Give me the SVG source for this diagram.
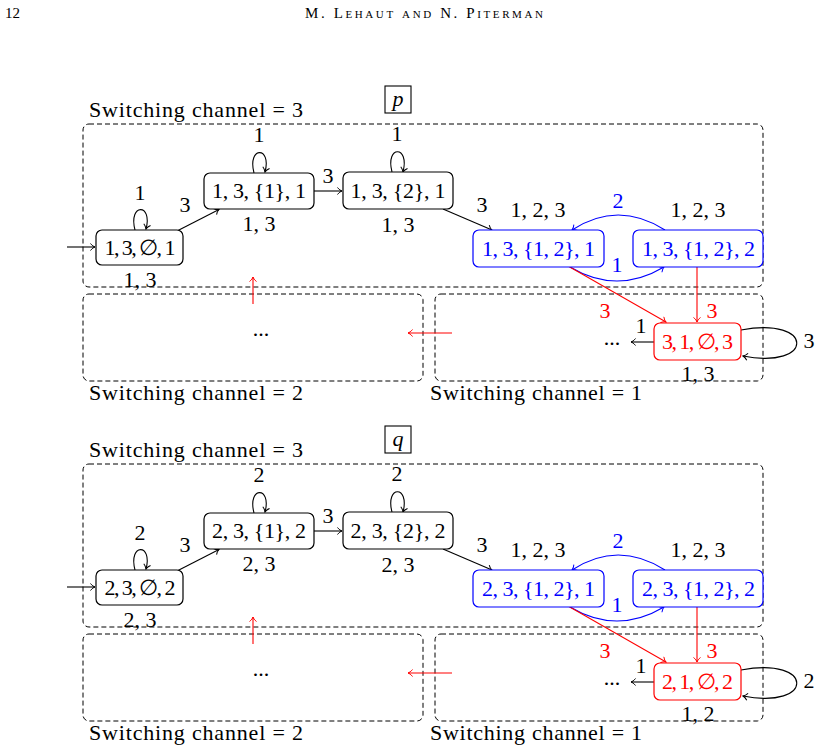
<svg xmlns="http://www.w3.org/2000/svg" width="820" height="752" viewBox="0 0 820 752">
  <style>
    .t { font-family: "Liberation Serif", "DejaVu Serif", serif; font-size: 22px; text-anchor: middle; fill: #000; }
    .tl { font-family: "Liberation Serif", "DejaVu Serif", serif; font-size: 22px; fill: #000; }
    .blue { fill: #0000ff; }
    .red { fill: #ff0000; }
    .hd { font-family: "Liberation Serif", "DejaVu Serif", serif; font-size: 15px; fill: #000; }
    .region { fill: none; stroke: #000; stroke-width: 1; stroke-dasharray: 5 3; }
    .nd { fill: #fff; stroke: #000; stroke-width: 1.2; }
    .nb { fill: #fff; stroke: #0000ff; stroke-width: 1.2; }
    .nr { fill: #fff; stroke: #ff0000; stroke-width: 1.2; }
    .e { fill: none; stroke: #000; stroke-width: 1.1; marker-end: url(#ak); }
    .eb { fill: none; stroke: #0000ff; stroke-width: 1.1; marker-end: url(#ab); }
    .er { fill: none; stroke: #ff0000; stroke-width: 1.1; marker-end: url(#ar); }
    .tag { fill: #fff; stroke: #000; stroke-width: 1.1; }
  </style>
  <defs>
    <marker id="ak" viewBox="-6 -4 7 8" refX="0" refY="0" markerWidth="7" markerHeight="8" markerUnits="userSpaceOnUse" orient="auto">
      <path d="M-4.5,-3.5 C-3,-1.5 -1.2,-0.4 0,0 C-1.2,0.4 -3,1.5 -4.5,3.5" fill="none" stroke="#000" stroke-width="1"/>
    </marker>
    <marker id="ab" viewBox="-6 -4 7 8" refX="0" refY="0" markerWidth="7" markerHeight="8" markerUnits="userSpaceOnUse" orient="auto">
      <path d="M-4.5,-3.5 C-3,-1.5 -1.2,-0.4 0,0 C-1.2,0.4 -3,1.5 -4.5,3.5" fill="none" stroke="#0000ff" stroke-width="1"/>
    </marker>
    <marker id="ar" viewBox="-6 -4 7 8" refX="0" refY="0" markerWidth="7" markerHeight="8" markerUnits="userSpaceOnUse" orient="auto">
      <path d="M-4.5,-3.5 C-3,-1.5 -1.2,-0.4 0,0 C-1.2,0.4 -3,1.5 -4.5,3.5" fill="none" stroke="#ff0000" stroke-width="1"/>
    </marker>
  </defs>

  <!-- running head -->
  <text class="hd" x="5" y="18">12</text>
  <text class="hd" x="305" y="18" style="font-variant: small-caps;" textLength="238">M. Lehaut and N. Piterman</text>

  <!-- ===================== automaton p ===================== -->
  <g id="automaton-p">
    <g id="p-regions">
      <rect class="region" x="83" y="124" width="680" height="163" rx="6"/>
      <rect class="region" x="83" y="294" width="340" height="87" rx="6"/>
      <rect class="region" x="435" y="294" width="328" height="87" rx="6"/>
      <text class="tl" x="89" y="117" textLength="214">Switching channel = 3</text>
      <text class="tl" x="89" y="400" textLength="214">Switching channel = 2</text>
      <text class="tl" x="430" y="400" textLength="212">Switching channel = 1</text>
      <text class="t" x="261" y="336">...</text>
      <text class="t" x="612" y="345">...</text>
    </g>
    <g id="p-tag">
      <rect class="tag" x="385" y="86" width="26" height="27"/>
      <text class="t" x="398" y="106" style="font-style: italic;">p</text>
    </g>

    <g id="p-connectors">
      <path class="e" d="M67,247 L95,247"/>
      <path class="e" d="M135,230 C128,203 153,203 146,229"/>
      <path class="e" d="M177,231 L219,209.5"/>
      <path class="e" d="M254,173 C247,146 272,146 265,172"/>
      <path class="e" d="M314,191 L342,191"/>
      <path class="e" d="M392,172 C385,145 410,145 403,172"/>
      <path class="e" d="M443,209 L492,230"/>
      <path class="eb" d="M665,230 Q618,200 572,230"/>
      <path class="eb" d="M570,267 Q617,295 664,267"/>
      <path class="er" d="M568,266 L666,322"/>
      <path class="er" d="M697,267 L697,322"/>
      <path class="e" d="M654,342 L631,342"/>
      <path class="e" d="M741,330 C815,316 815,370 743,356"/>
      <path class="er" d="M253,304 L253,277"/>
      <path class="er" d="M452,333 L408,333"/>
      <!-- edge labels -->
      <text class="t" x="140" y="200">1</text>
      <text class="t" x="185" y="212">3</text>
      <text class="t" x="259" y="142">1</text>
      <text class="t" x="328" y="183">3</text>
      <text class="t" x="397" y="141">1</text>
      <text class="t" x="482" y="212">3</text>
      <text class="t blue" x="618" y="208">2</text>
      <text class="t blue" x="617" y="272">1</text>
      <text class="t red" x="605" y="318">3</text>
      <text class="t red" x="712" y="318">3</text>
      <text class="t" x="641" y="333">1</text>
      <text class="t" x="809" y="348">3</text>
    </g>

    <g id="p-n0">
      <rect class="nd" x="96" y="230" width="87" height="35" rx="6"/>
      <text class="t" x="140" y="255" textLength="71">1, 3, ∅, 1</text>
      <text class="t" x="140" y="287">1, 3</text>
    </g>
    <g id="p-n1">
      <rect class="nd" x="204" y="173" width="110" height="36" rx="6"/>
      <text class="t" x="259" y="198" textLength="94">1, 3, {1}, 1</text>
      <text class="t" x="259" y="231">1, 3</text>
    </g>
    <g id="p-n2">
      <rect class="nd" x="343" y="172" width="110" height="37" rx="6"/>
      <text class="t" x="398" y="198" textLength="95">1, 3, {2}, 1</text>
      <text class="t" x="398" y="232">1, 3</text>
    </g>
    <g id="p-n3">
      <rect class="nb" x="473" y="230" width="131" height="37" rx="6"/>
      <text class="t blue" x="538.5" y="256" textLength="113">1, 3, {1, 2}, 1</text>
      <text class="t" x="538" y="217">1, 2, 3</text>
    </g>
    <g id="p-n4">
      <rect class="nb" x="633" y="230" width="130" height="37" rx="6"/>
      <text class="t blue" x="698.5" y="256" textLength="113">1, 3, {1, 2}, 2</text>
      <text class="t" x="698" y="217">1, 2, 3</text>
    </g>
    <g id="p-n5">
      <rect class="nr" x="654" y="323" width="87" height="37" rx="6"/>
      <text class="t red" x="697.5" y="349" textLength="71">3, 1, ∅, 3</text>
      <text class="t" x="698" y="381">1, 3</text>
    </g>
  </g>

  <!-- ===================== automaton q ===================== -->
  <g id="automaton-q" transform="translate(0,340)">
    <g id="q-regions">
      <rect class="region" x="83" y="124" width="680" height="163" rx="6"/>
      <rect class="region" x="83" y="294" width="340" height="87" rx="6"/>
      <rect class="region" x="435" y="294" width="328" height="87" rx="6"/>
      <text class="tl" x="89" y="117" textLength="214">Switching channel = 3</text>
      <text class="tl" x="89" y="400" textLength="214">Switching channel = 2</text>
      <text class="tl" x="430" y="400" textLength="212">Switching channel = 1</text>
      <text class="t" x="261" y="336">...</text>
      <text class="t" x="612" y="345">...</text>
    </g>
    <g id="q-tag">
      <rect class="tag" x="385" y="86" width="26" height="27"/>
      <text class="t" x="398" y="106" style="font-style: italic;">q</text>
    </g>

    <g id="q-connectors">
      <path class="e" d="M67,247 L95,247"/>
      <path class="e" d="M135,230 C128,203 153,203 146,229"/>
      <path class="e" d="M177,231 L219,209.5"/>
      <path class="e" d="M254,173 C247,146 272,146 265,172"/>
      <path class="e" d="M314,191 L342,191"/>
      <path class="e" d="M392,172 C385,145 410,145 403,172"/>
      <path class="e" d="M443,209 L492,230"/>
      <path class="eb" d="M665,230 Q618,200 572,230"/>
      <path class="eb" d="M570,267 Q617,295 664,267"/>
      <path class="er" d="M568,266 L666,322"/>
      <path class="er" d="M697,267 L697,322"/>
      <path class="e" d="M654,342 L631,342"/>
      <path class="e" d="M741,330 C815,316 815,370 743,356"/>
      <path class="er" d="M253,304 L253,277"/>
      <path class="er" d="M452,333 L408,333"/>
      <!-- edge labels -->
      <text class="t" x="140" y="200">2</text>
      <text class="t" x="185" y="212">3</text>
      <text class="t" x="259" y="142">2</text>
      <text class="t" x="328" y="183">3</text>
      <text class="t" x="397" y="141">2</text>
      <text class="t" x="482" y="212">3</text>
      <text class="t blue" x="618" y="208">2</text>
      <text class="t blue" x="617" y="272">1</text>
      <text class="t red" x="605" y="318">3</text>
      <text class="t red" x="712" y="318">3</text>
      <text class="t" x="641" y="333">1</text>
      <text class="t" x="809" y="348">2</text>
    </g>

    <g id="q-n0">
      <rect class="nd" x="96" y="230" width="87" height="35" rx="6"/>
      <text class="t" x="140" y="255" textLength="71">2, 3, ∅, 2</text>
      <text class="t" x="140" y="287">2, 3</text>
    </g>
    <g id="q-n1">
      <rect class="nd" x="204" y="173" width="110" height="36" rx="6"/>
      <text class="t" x="259" y="198" textLength="94">2, 3, {1}, 2</text>
      <text class="t" x="259" y="231">2, 3</text>
    </g>
    <g id="q-n2">
      <rect class="nd" x="343" y="172" width="110" height="37" rx="6"/>
      <text class="t" x="398" y="198" textLength="95">2, 3, {2}, 2</text>
      <text class="t" x="398" y="232">2, 3</text>
    </g>
    <g id="q-n3">
      <rect class="nb" x="473" y="230" width="131" height="37" rx="6"/>
      <text class="t blue" x="538.5" y="256" textLength="113">2, 3, {1, 2}, 1</text>
      <text class="t" x="538" y="217">1, 2, 3</text>
    </g>
    <g id="q-n4">
      <rect class="nb" x="633" y="230" width="130" height="37" rx="6"/>
      <text class="t blue" x="698.5" y="256" textLength="113">2, 3, {1, 2}, 2</text>
      <text class="t" x="698" y="217">1, 2, 3</text>
    </g>
    <g id="q-n5">
      <rect class="nr" x="654" y="323" width="87" height="37" rx="6"/>
      <text class="t red" x="697.5" y="349" textLength="71">2, 1, ∅, 2</text>
      <text class="t" x="698" y="381">1, 2</text>
    </g>
  </g>
</svg>
